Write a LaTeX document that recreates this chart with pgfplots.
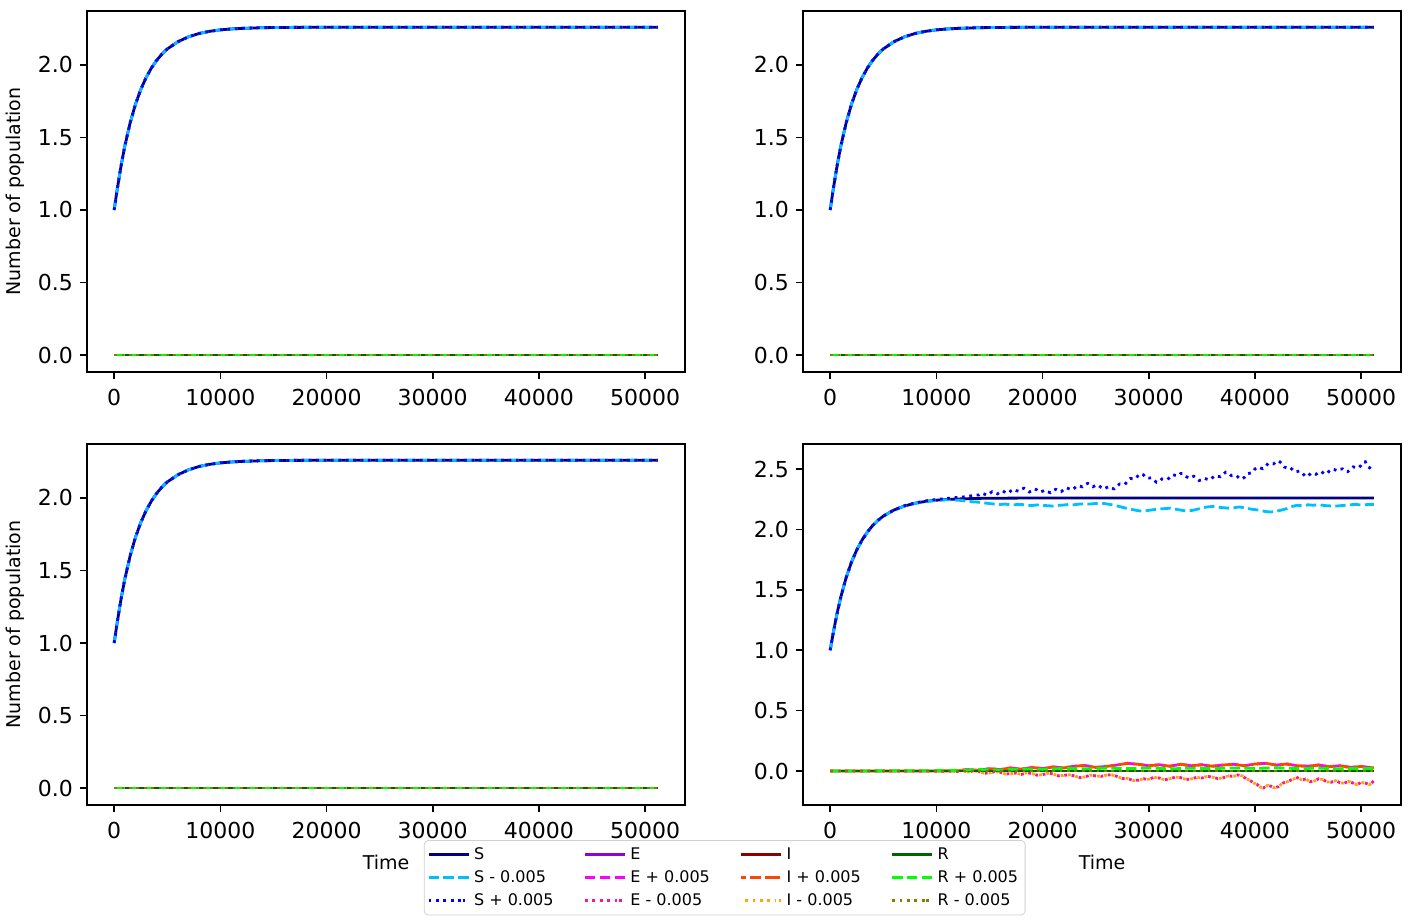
\documentclass[border=0pt]{standalone}
\usepackage{pgfplots}
\pgfplotsset{compat=1.18}
\usepackage{pgfplotstable}
\usepackage{fontspec}
\setmainfont{DejaVu Sans}

\definecolor{cS}{HTML}{000080}
\definecolor{cSm}{HTML}{00BFFF}
\definecolor{cSp}{HTML}{0000FF}
\definecolor{cE}{HTML}{9400D3}
\definecolor{cEp}{HTML}{FF00FF}
\definecolor{cEm}{HTML}{FF1493}
\definecolor{cI}{HTML}{8B0000}
\definecolor{cIp}{HTML}{FF4500}
\definecolor{cIm}{HTML}{FFA500}
\definecolor{cR}{HTML}{006400}
\definecolor{cRp}{HTML}{00FF00}
\definecolor{cRm}{HTML}{808000}

% deterministic susceptible curve, shared by all panels
\pgfplotstableread{
t y
0 1.000
250 1.125
500 1.240
750 1.345
1000 1.440
1500 1.600
2000 1.728
2500 1.830
3000 1.912
3500 1.978
4000 2.032
4500 2.075
5000 2.110
6000 2.160
7000 2.194
8000 2.217
9000 2.232
10000 2.242
11000 2.248
12000 2.252
14000 2.257
17000 2.259
20000 2.260
51200 2.260
}\Sbase

\pgfplotstableread{
t y
0 0
51200 0
}\Zero

% perturbed runs (bottom right panel)
\pgfplotstableread{
t y
0 1.000
250 1.125
500 1.240
750 1.345
1000 1.440
1500 1.600
2000 1.728
2500 1.830
3000 1.912
3500 1.978
4000 2.032
4500 2.075
5000 2.110
6000 2.161
7000 2.196
8000 2.219
9000 2.236
10000 2.248
11000 2.256
12000 2.265
12500 2.268
13000 2.275
13500 2.281
14000 2.286
14250 2.300
14500 2.293
14750 2.283
15000 2.298
15250 2.312
15500 2.302
15750 2.294
16000 2.310
16250 2.319
16500 2.305
16750 2.300
17000 2.318
17250 2.332
17500 2.322
17750 2.316
18000 2.333
18250 2.341
18500 2.325
18750 2.310
19000 2.320
19250 2.335
19500 2.326
19750 2.309
20000 2.316
20250 2.325
20500 2.310
20750 2.304
21000 2.322
21250 2.332
21500 2.318
21750 2.312
22000 2.330
22250 2.345
22500 2.336
22750 2.327
23000 2.342
23250 2.362
23500 2.358
23750 2.353
24000 2.372
24250 2.381
24500 2.366
24750 2.353
25000 2.364
25250 2.368
25500 2.348
25750 2.335
26000 2.345
26250 2.354
26500 2.340
26750 2.336
27000 2.356
27250 2.376
27500 2.372
27750 2.373
28000 2.398
28250 2.421
28500 2.420
28750 2.420
29000 2.445
29250 2.461
29500 2.452
29750 2.426
30000 2.425
30250 2.427
30500 2.405
30750 2.390
31000 2.398
31250 2.418
31500 2.415
31750 2.412
32000 2.432
32250 2.452
32500 2.448
32750 2.443
33000 2.462
33250 2.463
33500 2.440
33750 2.424
34000 2.432
34250 2.440
34500 2.425
34750 2.405
35000 2.410
35250 2.424
35500 2.415
35750 2.410
36000 2.428
36250 2.446
36500 2.440
36750 2.436
37000 2.455
37250 2.474
37500 2.470
37750 2.447
38000 2.448
38250 2.448
38500 2.425
38750 2.416
39000 2.430
39250 2.460
39500 2.465
39750 2.470
40000 2.500
40250 2.516
40500 2.508
40750 2.503
41000 2.522
41250 2.546
41500 2.545
41750 2.542
42000 2.562
42250 2.567
42500 2.548
42750 2.517
43000 2.510
43250 2.516
43500 2.498
43750 2.477
44000 2.480
44250 2.483
44500 2.462
44750 2.439
45000 2.440
45250 2.464
45500 2.465
45750 2.456
46000 2.472
46250 2.479
46500 2.462
46750 2.460
47000 2.482
47250 2.500
47500 2.495
47750 2.485
48000 2.498
48250 2.501
48500 2.480
48750 2.478
49000 2.500
49250 2.518
49500 2.512
49750 2.509
50000 2.530
50200 2.557
50400 2.560
50600 2.523
50800 2.510
51000 2.528
51200 2.522
}\Splus

\pgfplotstableread{
t y
0 1.000
250 1.125
500 1.240
750 1.345
1000 1.440
1500 1.600
2000 1.728
2500 1.830
3000 1.912
3500 1.978
4000 2.032
4500 2.075
5000 2.110
6000 2.160
7000 2.194
8000 2.216
9000 2.231
10000 2.240
11000 2.246
12000 2.242
12500 2.238
13000 2.232
13500 2.228
14000 2.225
14500 2.220
15000 2.214
15500 2.210
16000 2.206
16500 2.210
17000 2.202
17500 2.205
18000 2.207
18500 2.200
19000 2.198
19500 2.203
20000 2.200
20500 2.196
21000 2.193
21500 2.199
22000 2.202
22500 2.207
23000 2.204
23500 2.210
24000 2.212
24500 2.210
25000 2.215
25500 2.218
26000 2.212
26500 2.204
27000 2.195
27500 2.184
28000 2.172
28500 2.164
29000 2.155
29500 2.150
30000 2.158
30500 2.164
31000 2.170
31500 2.172
32000 2.176
32500 2.168
33000 2.160
33500 2.153
34000 2.156
34500 2.165
35000 2.178
35500 2.186
36000 2.190
36500 2.184
37000 2.180
37500 2.176
38000 2.178
38500 2.186
39000 2.180
39500 2.170
40000 2.164
40500 2.158
41000 2.148
41500 2.144
42000 2.150
42500 2.160
43000 2.172
43500 2.190
44000 2.200
44500 2.195
45000 2.204
45500 2.200
46000 2.206
46500 2.198
47000 2.195
47500 2.192
48000 2.196
48500 2.200
49000 2.204
49500 2.207
50000 2.202
50500 2.205
51200 2.207
}\Sminus

\pgfplotstableread{
t y
0 0.000
10000 0.000
12000 0.004
13000 0.012
14000 0.006
15000 0.020
16000 0.012
17000 0.026
18000 0.016
19000 0.030
20000 0.020
21000 0.034
22000 0.026
23000 0.040
24000 0.046
25000 0.030
26000 0.038
27000 0.050
28000 0.064
29000 0.056
30000 0.044
31000 0.052
32000 0.040
33000 0.056
34000 0.044
35000 0.052
36000 0.040
37000 0.050
38000 0.056
39000 0.044
40000 0.058
41000 0.064
42000 0.050
43000 0.058
44000 0.044
45000 0.040
46000 0.050
47000 0.036
48000 0.044
49000 0.030
50000 0.038
51200 0.026
}\Eplus

\pgfplotstableread{
t y
0 0.000
10000 0.000
12000 -0.003
12500 0.004
13000 -0.008
13500 0.002
14000 -0.004
14500 -0.018
15000 -0.016
15500 -0.004
16000 -0.010
16500 -0.024
17000 -0.022
17500 -0.016
18000 -0.028
18500 -0.014
19000 -0.020
19500 -0.034
20000 -0.030
20500 -0.018
21000 -0.024
21500 -0.040
22000 -0.036
22500 -0.030
23000 -0.040
23500 -0.054
24000 -0.048
24500 -0.034
25000 -0.040
25500 -0.044
26000 -0.034
26500 -0.030
27000 -0.044
27500 -0.062
28000 -0.060
28500 -0.078
29000 -0.076
29500 -0.064
30000 -0.068
30500 -0.052
31000 -0.058
31500 -0.072
32000 -0.064
32500 -0.050
33000 -0.054
33500 -0.070
34000 -0.066
34500 -0.052
35000 -0.058
35500 -0.044
36000 -0.050
36500 -0.062
37000 -0.056
37500 -0.040
38000 -0.044
38400 -0.032
38800 -0.040
39200 -0.065
39500 -0.075
39900 -0.100
40200 -0.110
40500 -0.132
40800 -0.140
41200 -0.118
41500 -0.125
41800 -0.138
42200 -0.130
42600 -0.100
43000 -0.090
43500 -0.070
44000 -0.055
44400 -0.072
44800 -0.066
45200 -0.088
45600 -0.082
46000 -0.064
46400 -0.070
46800 -0.090
47200 -0.092
47600 -0.080
48000 -0.096
48400 -0.102
48800 -0.084
49200 -0.098
49600 -0.112
50000 -0.094
50400 -0.100
50800 -0.112
51200 -0.082
}\Eminus

\pgfplotstableread{
t y
0 0.000
12000 0.004
14000 0.012
16000 0.008
18000 0.018
20000 0.014
22000 0.022
24000 0.018
26000 0.024
28000 0.020
30000 0.026
32000 0.018
34000 0.024
36000 0.020
38000 0.026
40000 0.022
42000 0.028
44000 0.020
46000 0.024
48000 0.018
50000 0.022
51200 0.020
}\Rplus

\pgfplotsset{
  panel/.style={
    scale only axis, width=299pt, height=180.5pt,
    xmin=-2560, xmax=53760,
    xtick={0,10000,20000,30000,40000,50000},
    scaled x ticks=false,
    xticklabel style={/pgf/number format/1000 sep={}, yshift=-1.5pt},
    yticklabel style={/pgf/number format/.cd, fixed, fixed zerofill, precision=1},
    /pgf/number format/assume math mode=true,
    tick align=outside, xtick pos=bottom, ytick pos=left,
    major tick length=3.5pt,
    tick style={black, line width=0.8pt},
    axis line style={line width=0.8pt},
    ticklabel style={font=\fontsize{11}{13}\selectfont},
    label style={font=\fontsize{9.5}{11}\selectfont},
    xlabel style={yshift=-1.5pt},
    every axis plot/.append style={line width=1.4pt, no marks},
  },
  sol/.style={solid},
  dsh/.style={dash pattern=on 5.2pt off 2.2pt},
  dot/.style={dash pattern=on 1.4pt off 2.3pt},
}

\newcommand\flatpanel{%
  \addplot[cS, sol] table {\Sbase};
  \addplot[cSm, dsh] table {\Sbase};
  \addplot[cSp, dot] table {\Sbase};
  \addplot[cE, sol] table {\Zero};
  \addplot[cEp, dsh] table {\Zero};
  \addplot[cEm, dot] table {\Zero};
  \addplot[cI, sol] table {\Zero};
  \addplot[cIp, dsh] table {\Zero};
  \addplot[cIm, dot] table {\Zero};
  \addplot[cR, sol] table {\Zero};
  \addplot[cRp, dsh] table {\Zero};
  \addplot[cRm, dot] table {\Zero};
}

\begin{document}
\begin{tikzpicture}
\path[use as bounding box] (0,0) rectangle (705.5pt,460.5pt);

\begin{axis}[panel, at={(43.5pt,274.5pt)}, anchor=south west,
  ymin=-0.117, ymax=2.372, ytick={0,0.5,1,1.5,2},
  ylabel={Number of population}]
\flatpanel
\end{axis}

\begin{axis}[panel, at={(401.5pt,274.5pt)}, anchor=south west,
  ymin=-0.117, ymax=2.372, ytick={0,0.5,1,1.5,2}]
\flatpanel
\end{axis}

\begin{axis}[panel, at={(43.5pt,58pt)}, anchor=south west,
  ymin=-0.117, ymax=2.372, ytick={0,0.5,1,1.5,2},
  ylabel={Number of population}, xlabel={Time}]
\flatpanel
\end{axis}

\begin{axis}[panel, at={(401.5pt,58pt)}, anchor=south west,
  ymin=-0.281, ymax=2.707, ytick={0,0.5,1,1.5,2,2.5},
  xlabel={Time},
  legend columns=3, transpose legend, legend cell align=left,
  legend image code/.code={\draw[#1] (0pt,0pt) -- (17pt,0pt); \path (17pt,0pt) -- (20pt,0pt);},
  legend style={at={(-0.634,-0.097)}, anchor=north west,
    font=\fontsize{8}{9.5}\selectfont, draw=black!18, rounded corners=2pt,
    inner sep=1.5pt, row sep=0pt,
    /tikz/every even column/.append style={column sep=13pt}}]
\addplot[cS, sol] table {\Sbase};
\addplot[cSm, dsh] table {\Sminus};
\addplot[cSp, dot] table {\Splus};
\addplot[cE, sol] table {\Zero};
\addplot[cEp, dsh] table {\Eplus};
\addplot[cEm, dot] table {\Eminus};
\addplot[cI, sol] table {\Zero};
\addplot[cIp, dsh, dash phase=3pt] table {\Eplus};
\addplot[cIm, dot, dash phase=1.8pt] table {\Eminus};
\addplot[cR, sol] table {\Zero};
\addplot[cRp, dsh] table {\Rplus};
\addplot[cRm, dot] table {\Zero};
\legend{S, S - 0.005, S + 0.005, E, E + 0.005, E - 0.005, I, I + 0.005, I - 0.005, R, R + 0.005, R - 0.005}
\end{axis}
\end{tikzpicture}
\end{document}
